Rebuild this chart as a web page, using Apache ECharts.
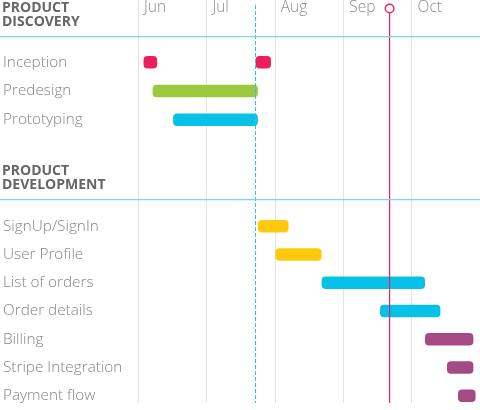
<!DOCTYPE html>
<html>
<head>
<meta charset="utf-8">
<script src="https://cdn.jsdelivr.net/npm/echarts@6/dist/echarts.min.js"></script>
<style>html,body{margin:0;padding:0;background:#fff}#c{width:480px;height:410px}</style>
</head>
<body>
<div id="c"></div>
<script>
// ---- data ----
const monthLabels = ['Jun', 'Jul', 'Aug', 'Sep', 'Oct'];
const firstMonth = 6;

const discoveryRows = ['Inception', 'Predesign', 'Prototyping'];
const discoveryTask = ['Inception', 'Inception', 'Predesign', 'Prototyping'];
const discoveryStart = ['2017-06-03', '2017-07-23', '2017-06-07', '2017-06-16'];
const discoveryEnd   = ['2017-06-09', '2017-07-30', '2017-07-24', '2017-07-24'];

const developmentRows = ['SignUp/SignIn', 'User Profile', 'List of orders', 'Order details', 'Billing', 'Stripe Integration', 'Payment flow'];
const developmentTask = developmentRows;
const developmentStart = ['2017-07-24', '2017-08-01', '2017-08-22', '2017-09-17', '2017-10-07', '2017-10-17', '2017-10-22'];
const developmentEnd   = ['2017-08-07', '2017-08-22', '2017-10-07', '2017-10-14', '2017-10-29', '2017-10-29', '2017-10-30'];

const markerDates = ['2017-07-23', '2017-09-21'];
const markerKinds = ['dashed', 'today'];

// ---- styles ----
const taskColor = {
  'Inception': '#ee1d5c', 'Predesign': '#9bc93d', 'Prototyping': '#08c1e6',
  'SignUp/SignIn': '#ffca0d', 'User Profile': '#ffca0d',
  'List of orders': '#08c1e6', 'Order details': '#08c1e6',
  'Billing': '#a44a85', 'Stripe Integration': '#a44a85', 'Payment flow': '#a44a85'
};

function toM(s) {
  const p = s.split('-').map(Number);
  const dim = new Date(p[0], p[1], 0).getDate();
  return (p[1] - firstMonth) + (p[2] - 1) / dim;
}

function buildData(tasks, starts, ends, rows) {
  return tasks.map((t, i) => ({
    value: [toM(starts[i]), toM(ends[i]), rows.indexOf(t)],
    itemStyle: { color: taskColor[t] }
  }));
}

function renderBar(params, api) {
  const s = api.coord([api.value(0), api.value(2)]);
  const e = api.coord([api.value(1), api.value(2)]);
  const h = 12.5;
  return {
    type: 'rect',
    shape: { x: s[0], y: s[1] - h / 2, width: e[0] - s[0], height: h, r: 4 },
    style: { fill: api.visual('color') }
  };
}

function renderMarker(params, api) {
  const c = api.coord([api.value(0), 0]);
  const x = Math.round(c[0]);
  const bottom = Math.round(c[1]);
  const kind = markerKinds[params.dataIndex];
  if (kind === 'dashed') {
    const dashes = [];
    for (let y = 5; y < bottom; y += 6) {
      dashes.push({ type: 'rect', shape: { x: x, y: y, width: 1, height: Math.min(4, bottom - y) },
        style: { fill: '#22c8ea' } });
    }
    return { type: 'group', children: dashes };
  }
  return { type: 'group', children: [
    { type: 'rect', shape: { x: x, y: 13, width: 1.2, height: bottom - 13 }, style: { fill: '#ee1f64' } },
    { type: 'circle', shape: { cx: x + 0.6, cy: 8.5, r: 4.3 }, style: { fill: '#fff', stroke: '#ee1f64', lineWidth: 1.4 } }
  ] };
}

const FONT = 'Open Sans';
const labelStyle = { color: '#858585', fontSize: 15.3, fontFamily: FONT, fontWeight: 300 };
const headStyle = { color: '#666', fontSize: 14, fontWeight: 'bold', fontFamily: FONT, lineHeight: 14 };
const xMax = monthLabels.length;

const chart = echarts.init(document.getElementById('c'), null, { renderer: 'canvas' });
chart.setOption({
  animation: false,
  title: [
    { text: 'PRODUCT\nDISCOVERY', left: 2, top: 1, padding: 0, textStyle: headStyle },
    { text: 'PRODUCT\nDEVELOPMENT', left: 2, top: 164, padding: 0, textStyle: headStyle }
  ],
  graphic: [
    { type: 'rect', shape: { x: 0, y: 36, width: 480, height: 1.2 }, style: { fill: '#7ad6ea' }, z: 10 },
    { type: 'rect', shape: { x: 0, y: 199, width: 480, height: 1.2 }, style: { fill: '#7ad6ea' }, z: 10 }
  ],
  grid: [
    { left: 138, right: 0, top: 48, height: 86 },
    { left: 138, right: 0, top: 212, height: 199.5 },
    { left: 138, right: 0, top: 0, bottom: 7 }
  ],
  xAxis: [
    { type: 'value', gridIndex: 0, min: 0, max: xMax, show: false },
    { type: 'value', gridIndex: 1, min: 0, max: xMax, show: false },
    { type: 'value', gridIndex: 2, min: 0, max: xMax, interval: 1, position: 'top',
      axisLine: { show: false }, axisTick: { show: false },
      splitLine: { show: true, lineStyle: { color: '#e3e3e3', width: 1 } },
      axisLabel: Object.assign({
        inside: true, margin: 8, align: 'left', verticalAlign: 'middle', padding: [0, 0, 0, 6],
        showMaxLabel: false,
        formatter: v => monthLabels[Math.round(v)] || ''
      }, labelStyle, { color: '#8c8c8c', fontSize: 15.5 })
    }
  ],
  yAxis: [
    { type: 'category', gridIndex: 0, data: discoveryRows, inverse: true,
      axisLine: { show: false }, axisTick: { show: false }, splitLine: { show: false },
      axisLabel: Object.assign({ align: 'left', margin: 136 }, labelStyle) },
    { type: 'category', gridIndex: 1, data: developmentRows, inverse: true,
      axisLine: { show: false }, axisTick: { show: false }, splitLine: { show: false },
      axisLabel: Object.assign({ align: 'left', margin: 136 }, labelStyle) },
    { type: 'value', gridIndex: 2, min: 0, max: 1, show: false }
  ],
  series: [
    { type: 'custom', xAxisIndex: 0, yAxisIndex: 0, renderItem: renderBar, encode: { x: [0, 1], y: 2 },
      data: buildData(discoveryTask, discoveryStart, discoveryEnd, discoveryRows), z: 5 },
    { type: 'custom', xAxisIndex: 1, yAxisIndex: 1, renderItem: renderBar, encode: { x: [0, 1], y: 2 },
      data: buildData(developmentTask, developmentStart, developmentEnd, developmentRows), z: 5 },
    { type: 'custom', xAxisIndex: 2, yAxisIndex: 2, renderItem: renderMarker, encode: { x: 0 }, z: 6, silent: true,
      data: markerDates.map(d => [toM(d)]) }
  ]
});
</script>
</body>
</html>
